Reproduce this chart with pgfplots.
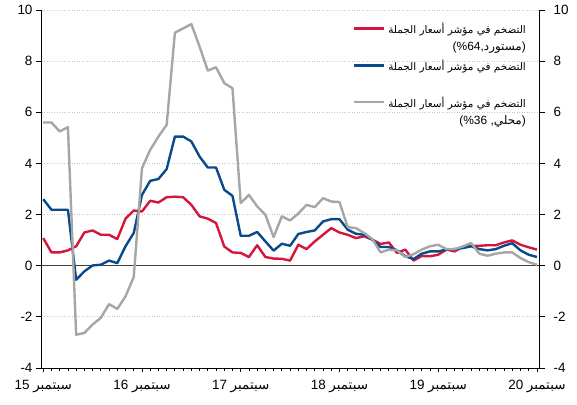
\documentclass[border=0pt]{standalone}
\usepackage{fontspec}
\setmainfont{Liberation Sans}
\newfontfamily\arabicfont[Script=Arabic]{DejaVu Sans}
\usepackage{pgfplots}
\usepackage{pgfplotstable}
\pgfplotsset{compat=1.18}
\usetikzlibrary{calc}
\TeXXeTstate=1
\definecolor{cred}{RGB}{213,21,58}
\definecolor{cblue}{RGB}{8,74,140}
\definecolor{cgray}{RGB}{166,166,166}
\definecolor{czero}{RGB}{64,64,64}
\definecolor{cgrid}{RGB}{200,200,200}

\pgfplotstableread{
m red blue gray
0 1.08 2.60 5.60
1 0.52 2.19 5.60
2 0.52 2.19 5.25
3 0.60 2.19 5.42
4 0.76 -0.55 -2.70
5 1.30 -0.22 -2.63
6 1.38 0.01 -2.30
7 1.21 0.04 -2.04
8 1.21 0.20 -1.50
9 1.04 0.10 -1.69
10 1.84 0.76 -1.20
11 2.16 1.28 -0.44
12 2.12 2.77 3.81
13 2.54 3.32 4.53
14 2.47 3.39 5.05
15 2.68 3.78 5.51
16 2.70 5.05 9.11
17 2.68 5.05 9.28
18 2.38 4.86 9.45
19 1.93 4.27 8.57
20 1.84 3.84 7.63
21 1.67 3.84 7.76
22 0.75 2.97 7.14
23 0.52 2.73 6.94
24 0.50 1.17 2.45
25 0.34 1.17 2.77
26 0.80 1.32 2.32
27 0.34 0.95 1.99
28 0.28 0.59 1.12
29 0.27 0.86 1.93
30 0.20 0.78 1.77
31 0.82 1.24 2.04
32 0.65 1.32 2.38
33 0.95 1.38 2.29
34 1.21 1.73 2.64
35 1.47 1.82 2.51
36 1.30 1.82 2.49
37 1.21 1.41 1.51
38 1.08 1.25 1.47
39 1.15 1.21 1.28
40 1.02 1.02 1.04
41 0.85 0.73 0.52
42 0.91 0.73 0.63
43 0.50 0.60 0.60
44 0.63 0.37 0.34
45 0.20 0.26 0.45
46 0.38 0.47 0.63
47 0.37 0.56 0.76
48 0.43 0.56 0.82
49 0.63 0.63 0.65
50 0.56 0.65 0.65
51 0.75 0.69 0.75
52 0.78 0.76 0.89
53 0.78 0.65 0.47
54 0.80 0.60 0.39
55 0.80 0.65 0.47
56 0.91 0.78 0.52
57 0.99 0.88 0.52
58 0.82 0.60 0.30
59 0.72 0.43 0.14
60 0.63 0.34 0.04
}\datatable

\pgfplotsset{
  common/.style={
    scale only axis, width=497bp, height=358bp,
    xmin=-0.15, xmax=60.25, ymin=-4, ymax=10,
    ytick={-4,-2,0,2,4,6,8,10},
    tick align=outside,
    major tick length=6bp,
    minor tick length=3bp,
    tick style={black, line width=0.8bp},
    x axis line style={-}, y axis line style={-},
    axis line style={black, line width=1bp},
    /pgf/number format/assume math mode=true,
    ticklabel style={font=\fontsize{13.5}{15}\selectfont},
  }
}
\newcommand{\secondline}{\fontsize{12}{17}\selectfont}

\begin{document}
\begin{tikzpicture}
\begin{axis}[common,
  axis x line*=bottom, axis y line*=left,
  xtick={0,12,24,36,48,60},
  xticklabels={15 {\arabicfont سبتمبر},16 {\arabicfont سبتمبر},17 {\arabicfont سبتمبر},18 {\arabicfont سبتمبر},19 {\arabicfont سبتمبر},20 {\arabicfont سبتمبر}},
  xticklabel style={yshift=-3bp},
  minor x tick num=11,
  xtick style={/pgfplots/major tick length=4bp},
  ymajorgrids,
  major grid style={cgrid, line width=0.8bp, dash pattern=on 1bp off 1.5bp},
  extra y ticks={0}, extra y tick labels={},
  extra y tick style={ymajorgrids=true, major grid style={solid, czero, line width=1.5bp}},
  legend style={at={(rel axis cs:0.976,0.97)}, anchor=north east, draw=none, fill=none,
    inner sep=0pt, row sep=4.5bp, column sep=2bp,
    font=\fontsize{10.5}{17}\selectfont, nodes={inner sep=1bp}},
  legend cell align=right,
  legend image code/.code={\path[draw=none,fill=none] (0bp,-10bp) rectangle (30bp,10bp); \draw[#1, line width=2.4bp] (0bp,8.5bp) -- (30bp,8.5bp);},
]
\addplot[cred, line width=2.4bp, line join=round] table[x=m, y=red]{\datatable};
\addlegendentry{\begin{tabular}[b]{@{}r@{}}\beginR\arabicfont التضخم في مؤشر أسعار الجملة\endR\\{\secondline(\%64,{\arabicfont مستورد})}\end{tabular}}
\addplot[cblue, line width=2.4bp, line join=round] table[x=m, y=blue]{\datatable};
\addlegendentry{\begin{tabular}[b]{@{}r@{}}\beginR\arabicfont التضخم في مؤشر أسعار الجملة\endR\\\mbox{}\end{tabular}}
\addplot[cgray, line width=2.4bp, line join=round] table[x=m, y=gray]{\datatable};
\addlegendentry{\begin{tabular}[b]{@{}r@{}}\beginR\arabicfont التضخم في مؤشر أسعار الجملة\endR\\{\secondline(\%36 ,{\arabicfont محلي})}\end{tabular}}
\coordinate (bl) at (rel axis cs:0,0);
\coordinate (tr) at (rel axis cs:1,1);
\end{axis}
\begin{axis}[common,
  axis y line*=right, axis x line=none,
  yticklabel style={xshift=5bp},
]
\end{axis}
\pgfresetboundingbox
\path[use as bounding box] ($(bl)+(-42bp,-37bp)$) rectangle ($(tr)+(38bp,10bp)$);
\end{tikzpicture}
\end{document}
